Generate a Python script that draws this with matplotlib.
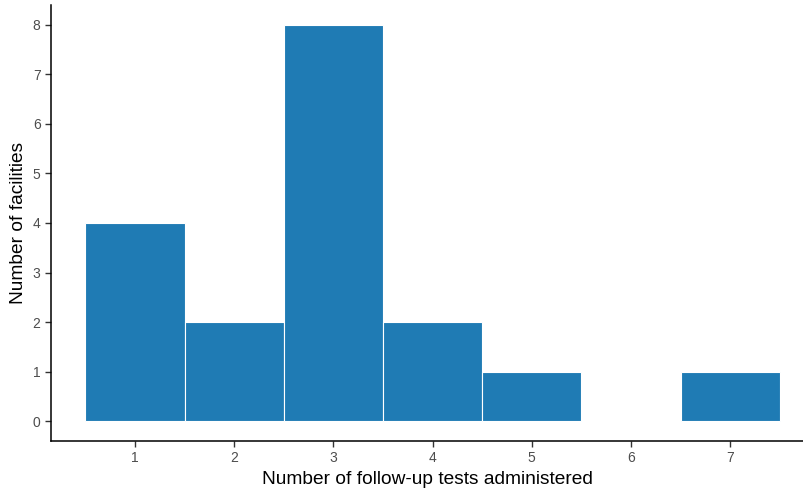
import matplotlib
matplotlib.use("Agg")
import matplotlib.pyplot as plt

# tests administered per facility -> count of facilities
tests = [1, 2, 3, 4, 5, 6, 7]
facilities = [4, 2, 8, 2, 1, 0, 1]

plt.rcParams['font.family'] = ['Liberation Sans', 'DejaVu Sans']

fig = plt.figure(figsize=(8.04, 4.93), dpi=100)
ax = fig.add_axes([51 / 804, 52 / 493, 1 - 51 / 804, (441 - 5) / 493])

ax.bar(tests, facilities, width=1.0, color='#1f7bb4', edgecolor='white', linewidth=0.8)

ax.set_xlim(0.153, 7.744)
ax.set_ylim(-0.404, 8.404)
ax.set_xticks(tests)
ax.set_yticks(range(0, 9))

for side in ['top', 'right']:
    ax.spines[side].set_visible(False)
for side in ['left', 'bottom']:
    ax.spines[side].set_linewidth(1.1)
    ax.spines[side].set_color('black')

ax.tick_params(axis='both', colors='#333333', labelcolor='#4d4d4d', labelsize=10,
               length=4, width=1)

ax.set_xlabel('Number of follow-up tests administered', fontsize=13.8, color='black', labelpad=4)
ax.set_ylabel('Number of facilities', fontsize=13.8, color='black', labelpad=4)

fig.savefig('out.png', dpi=100)
